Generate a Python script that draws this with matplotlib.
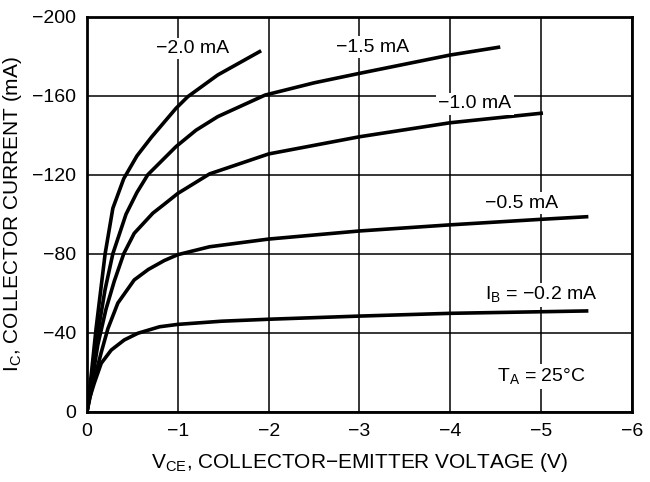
import matplotlib.pyplot as plt

plt.rcParams['font.family'] = ['Liberation Sans', 'DejaVu Sans']

# base current curves, Vce in V and Ic in mA
vce_02 = [0, -0.03, -0.08, -0.157, -0.267, -0.41, -0.56, -0.8, -1.0, -1.48, -2.0, -3.0, -4.0, -5.0, -5.5]
ic_02 = [0, -7, -14.4, -24.5, -31.2, -36.3, -39.7, -43, -44.2, -45.8, -46.8, -48.4, -49.8, -50.6, -51]

vce_05 = [0, -0.05, -0.157, -0.23, -0.34, -0.52, -0.675, -0.85, -1.0, -1.35, -2.0, -3.0, -4.0, -5.0, -5.5]
ic_05 = [0, -11, -30, -42, -55, -66.7, -72, -76.5, -79.5, -83.5, -87.4, -91.5, -94.6, -97.4, -98.7]

vce_10 = [0, -0.05, -0.12, -0.21, -0.3, -0.405, -0.52, -0.725, -0.85, -1.0, -1.35, -2.0, -3.0, -4.0, -5.0]
ic_10 = [0, -14, -34, -52, -66, -80, -90.3, -100.5, -105, -110.5, -120.4, -130.5, -139.2, -146.3, -151.1]

vce_15 = [0, -0.05, -0.12, -0.2, -0.285, -0.43, -0.55, -0.67, -0.98, -1.2, -1.44, -1.96, -2.5, -3.0, -4.0, -4.53]
ic_15 = [0, -16, -40, -62, -80, -100, -111, -120, -134.2, -142.5, -149.4, -160.3, -166.5, -171.3, -180.6, -184.5]

vce_20 = [0, -0.05, -0.1, -0.2, -0.285, -0.405, -0.55, -0.71, -0.98, -1.11, -1.44, -1.9]
ic_20 = [0, -20, -42, -80, -103, -118, -129.5, -139, -153.6, -159.5, -170.5, -182.3]

curves = [(vce_02, ic_02), (vce_05, ic_05), (vce_10, ic_10), (vce_15, ic_15), (vce_20, ic_20)]

labels = ['I$_\\mathregular{B}$ = \u22120.2 mA', '\u22120.5 mA', '\u22121.0 mA', '\u22121.5 mA', '\u22122.0 mA', 'T$_\\mathregular{A}$ = 25\u00b0C']
label_x = [-5.0, -4.78, -4.27, -3.14, -1.16, -5.0]
label_y = [-59, -105.6, -155.8, -184.6, -184, -17.7]

xticks = [0, -1, -2, -3, -4, -5, -6]
yticks = [0, -40, -80, -120, -160, -200]

fig = plt.figure(figsize=(6.5, 4.82), dpi=100)
ax = fig.add_axes([0.1338, 0.1459, 0.8385, 0.8195])

for v, i in curves:
    ax.plot(v, i, color='black', lw=2.6, solid_joinstyle='round', zorder=3)

for txt, x, y in zip(labels, label_x, label_y):
    ax.text(x, y, txt, ha='center', va='center', fontsize=14, zorder=4,
            bbox=dict(facecolor='white', edgecolor='none', pad=1.5))

ax.set_xlim(0, -6)
ax.set_ylim(0, -200)
ax.set_xticks(xticks)
ax.set_yticks(yticks)
ax.set_xticklabels([('%d' % t).replace('-', '\u2212') for t in xticks])
ax.set_yticklabels([('%d' % t).replace('-', '\u2212') for t in yticks])
ax.tick_params(length=0, labelsize=14, pad=8)
ax.grid(True, color='black', lw=1.1, zorder=1)
ax.set_axisbelow(True)
for s in ax.spines.values():
    s.set_linewidth(2)

ax.set_xlabel('V$_\\mathregular{CE}$, COLLECTOR\u2212EMITTER VOLTAGE (V)', fontsize=15, labelpad=8)
ax.set_ylabel('I$_\\mathregular{C}$, COLLECTOR CURRENT (mA)', fontsize=15, labelpad=6)

fig.savefig('out.png', dpi=100)
plt.close()
